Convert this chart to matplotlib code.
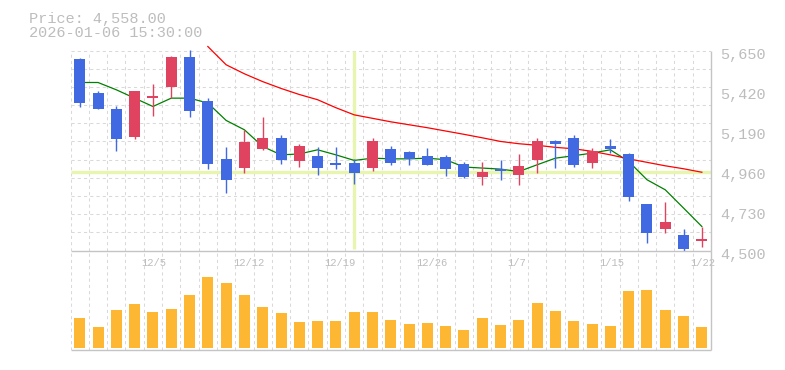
import matplotlib
matplotlib.use("Agg")
import matplotlib.pyplot as plt
import matplotlib.transforms as mtransforms
import numpy as np

# daily bars, 2025-12-01 .. 2026-01-22
dates = ["12/1", "12/2", "12/3", "12/4", "12/5", "12/8", "12/9", "12/10", "12/11", "12/12",
         "12/15", "12/16", "12/17", "12/18", "12/19", "12/22", "12/23", "12/24", "12/25", "12/26",
         "12/29", "12/30", "1/5", "1/6", "1/7", "1/8", "1/9", "1/13", "1/14", "1/15",
         "1/16", "1/19", "1/20", "1/21", "1/22"]
opens = [5602, 5408, 5315, 5154, 5380, 5443, 5615, 5361, 5027, 4977, 5085, 5148, 5012, 5044, 5004,
         5004, 4977, 5085, 5067, 5044, 5039, 4998, 4920, 4971, 4937, 5023, 5131, 5148, 5006, 5102,
         5056, 4768, 4626, 4590, 4552]
highs = [5605, 5418, 5332, 5420, 5459, 5621, 5654, 5376, 5096, 5194, 5269, 5165, 5114, 5096, 5096,
         5027, 5148, 5102, 5073, 5090, 5050, 5010, 5010, 5021, 5056, 5148, 5133, 5165, 5090, 5142,
         5058, 4770, 4780, 4625, 4636]
lows = [5328, 5312, 5075, 5142, 5275, 5376, 5270, 4971, 4833, 4948, 5079, 5000, 4983, 4937, 4971,
        4885, 4960, 4989, 4989, 4989, 4931, 4918, 4874, 4908, 4874, 4948, 4977, 4983, 4977, 5058,
        4782, 4546, 4598, 4500, 4523]
closes = [5351, 5315, 5142, 5418, 5383, 5615, 5303, 5000, 4908, 5125, 5148, 5023, 5102, 4977, 4994,
          4948, 5131, 5006, 5027, 4993, 4971, 4920, 4952, 4960, 4987, 5131, 5115, 4993, 5073, 5081,
          4810, 4603, 4665, 4511, 4567]
ma5 = [5466, 5466, 5424, 5376, 5328, 5376, 5376, 5348, 5248, 5194, 5098, 5050, 5055, 5079, 5050,
       5018, 5031, 5027, 5027, 5031, 5022, 4980, 4974, 4968, 4954, 4993, 5031, 5045, 5060, 5079,
       5012, 4907, 4849, 4744, 4638]
ma25 = [np.nan] * 7 + [5673, 5568, 5516, 5471, 5432, 5397, 5367, 5321, 5280, 5260, 5240, 5223,
                       5206, 5187, 5168, 5148, 5127, 5114, 5105, 5093, 5085, 5070, 5050, 5027,
                       5007, 4987, 4970, 4950]
volume = [306, 216, 386, 446, 366, 396, 536, 716, 656, 536, 416, 356, 266, 276, 276, 366, 366, 286,
          246, 256, 226, 186, 306, 236, 286, 456, 376, 276, 246, 226, 576, 586, 386, 326, 216]
yticks = [4500, 4730, 4960, 5190, 5420, 5650]
label_every = 5
cursor_idx = 15
cursor_price = 4950
title_lines = ["Price: 4,558.00", "2026-01-06 15:30:00"]

UP = "#e0435f"
DOWN = "#4169e1"
GRID = "#d9d9d9"
AXIS = "#c4c4c4"
TEXT = "#bdbdbd"
CURSOR = "#e8f5b0"
FONT = "Liberation Mono"

W, H = 785, 370
fig = plt.figure(figsize=(W / 100, H / 100), dpi=100)

def frac(left, top, right, bottom):
    return [left / W, 1 - bottom / H, (right - left) / W, (bottom - top) / H]

n = len(closes)
x = np.arange(n) + 0.5
px = 1150 / 200.0  # price units per pixel

ax = fig.add_axes(frac(70.6, 45, 711, 250.5))
ax.set_xlim(0, n)
ax.set_ylim(4500, 4500 + 205.5 * px)
ax.axis("off")

# grid
dash = (0, (3, 3))
for k in range(1, 12):
    ax.axhline(4500 + k * 1150 / 11, color=GRID, lw=0.75, ls=dash, zorder=0)
ax.vlines(np.arange(n), 4500, 5650, color=GRID, lw=0.75, linestyles=dash, zorder=0)
ax.hlines(4500, 0, n, color=AXIS, lw=1.0, zorder=5, clip_on=False)
ax.vlines(n, 4500, 5650, color=AXIS, lw=1.0, zorder=5, clip_on=False)

# cursor
ax.vlines(cursor_idx + 0.5, 4510, 5645, color=CURSOR, lw=2.4, zorder=1)
ax.hlines(cursor_price, 0, n, color=CURSOR, lw=2.4, zorder=1)

# moving averages
ax.plot(x, ma5, color="green", lw=0.9, zorder=2)
ax.plot(x, ma25, color="red", lw=0.9, zorder=2)

# candles
for i in range(n):
    o, h, l, c = opens[i], highs[i], lows[i], closes[i]
    col = UP if c >= o else DOWN
    ax.vlines(x[i], l, h, color=col, lw=1.0, zorder=3)
    body = abs(c - o)
    bottom = min(o, c)
    if body < 1.5 * px:
        bottom = (o + c) / 2 - 0.75 * px
        body = 1.5 * px
    ax.bar(x[i], body, bottom=bottom, width=0.6, color=col, zorder=4)

# right price labels
lab_tr = mtransforms.offset_copy(ax.get_yaxis_transform(), fig=fig, x=9, y=-8, units="dots")
for v in yticks:
    ax.text(1.0, v, f"{v:,}", transform=lab_tr, ha="left", va="baseline",
            fontsize=11, color=TEXT, family=FONT, clip_on=False)

# volume panel
vax = fig.add_axes(frac(70.6, 250.5, 711, 350.3))
vax.set_xlim(0, n)
vax.set_ylim(-20, 978)
vax.axis("off")
vax.vlines(np.arange(n), -20, 978, color=GRID, lw=0.75, linestyles=dash, zorder=0)
vax.bar(x, volume, width=0.6, color="#fdb733", zorder=2)
vax.hlines(-20, 0, n, color=AXIS, lw=1.0, zorder=5, clip_on=False)
vax.vlines(n, -20, 978, color=AXIS, lw=1.0, zorder=5, clip_on=False)

# date labels, left aligned on the grid line
date_tr = mtransforms.offset_copy(
    mtransforms.blended_transform_factory(vax.transData, fig.transFigure),
    fig=fig, x=-2, y=0, units="dots")
for i in range(4, n, label_every):
    vax.text(i, 1 - 265.7 / H, dates[i], transform=date_tr, ha="left", va="baseline",
             fontsize=7.6, color=TEXT, family=FONT, clip_on=False)

# header text
fig.text(29.3 / W, 1 - 22.7 / H, title_lines[0], ha="left", va="baseline",
         fontsize=11, color=TEXT, family=FONT)
fig.text(29.3 / W, 1 - 37.3 / H, title_lines[1], ha="left", va="baseline",
         fontsize=11, color=TEXT, family=FONT)

fig.savefig("out.png", dpi=100, facecolor="white")
